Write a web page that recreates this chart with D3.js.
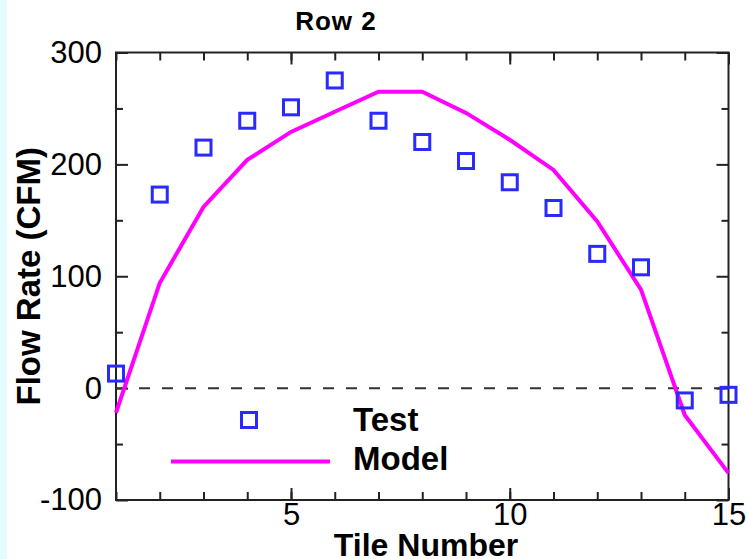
<!DOCTYPE html>
<html>
<head>
<meta charset="utf-8">
<script src="https://cdn.jsdelivr.net/npm/d3@7"></script>
<style>
body { margin: 0; background: #fff; }
svg { display: block; }
.axis text { font-family: "Liberation Sans", Arial, sans-serif; fill: #000; }
.axis line { stroke: #222; stroke-width: 2; }
.axis path { display: none; }
</style>
</head>
<body>
<script>
const WIDTH = 747, HEIGHT = 559;
const LEFT = 116, RIGHT = 728.5, TOP = 52.5, BOTTOM = 500;

var tiles = [1,2,3,4,5,6,7,8,9,10,11,12,13,14,15];
var testFlow = [13,173,215,239,251,275,239,220,203,184,161,120,108,-11,-6];
var modelFlow = [-22,94,162,204,229,247,265,265,246,222,195,149,88,-24,-76];
var xMajorTicks = [5,10,15];
var yMajorTicks = [-100,0,100,200,300];
var yMinorTicks = [-50,50,150,250];
var legendLabels = ['Test','Model'];

var svg = d3.select('body').append('svg')
	.attr('width',WIDTH)
	.attr('height',HEIGHT);

svg.append('rect').attr('x',0).attr('y',0).attr('width',7).attr('height',HEIGHT).attr('fill','#e4fbff');

var x = d3.scaleLinear().domain([1,15]).range([LEFT,RIGHT]);
var y = d3.scaleLinear().domain([-100,300]).range([BOTTOM,TOP]);
var plain = function(d){ return String(d); };  // keep the ascii hyphen for negatives

// ticks, all pointing into the plot
var addAxis = function(axis,tx,ty){
	return svg.append('g').attr('class','axis')
		.attr('transform','translate('+tx+','+ty+')')
		.call(axis);
}
addAxis(d3.axisBottom(x).tickValues(tiles).tickSize(-8).tickFormat(''),0,BOTTOM);
addAxis(d3.axisTop(x).tickValues(tiles).tickSize(-8).tickFormat(''),0,TOP);
addAxis(d3.axisTop(x).tickValues(xMajorTicks).tickSize(-12).tickFormat(''),0,TOP);
var xAx = addAxis(d3.axisBottom(x).tickValues(xMajorTicks).tickSize(-12).tickPadding(3).tickFormat(plain),0,BOTTOM);
xAx.selectAll('text').style('font-size','31px');

addAxis(d3.axisLeft(y).tickValues(yMinorTicks).tickSize(-7).tickFormat(''),LEFT,0);
addAxis(d3.axisRight(y).tickValues(yMinorTicks).tickSize(-7).tickFormat(''),RIGHT,0);
addAxis(d3.axisRight(y).tickValues(yMajorTicks).tickSize(-12).tickFormat(''),RIGHT,0);
var yAx = addAxis(d3.axisLeft(y).tickValues(yMajorTicks).tickSize(-12).tickPadding(14).tickFormat(plain),LEFT,0);
yAx.selectAll('text').style('font-size','31px');

// frame
svg.append('rect')
	.attr('x',LEFT).attr('y',TOP)
	.attr('width',RIGHT-LEFT).attr('height',BOTTOM-TOP)
	.attr('fill','none').attr('stroke','#222').attr('stroke-width',2);

// zero line
svg.append('line')
	.attr('x1',LEFT).attr('x2',RIGHT)
	.attr('y1',y(0)).attr('y2',y(0))
	.attr('stroke','#333').attr('stroke-width',2)
	.attr('stroke-dasharray','11,12');

var modelLine = d3.line()
	.x(function(d,i){ return x(tiles[i]); })
	.y(function(d){ return y(d); });
svg.append('path')
	.attr('d',modelLine(modelFlow))
	.attr('fill','none').attr('stroke','#ff00ff').attr('stroke-width',4);

var SQ = 15;
svg.append('g').selectAll('rect')
	.data(testFlow)
	.enter()
	.append('rect')
	.attr('x',function(d,i){ return x(tiles[i]) - SQ/2; })
	.attr('y',function(d){ return y(d) - SQ/2; })
	.attr('width',SQ).attr('height',SQ)
	.attr('fill','none').attr('stroke','#2a2aff').attr('stroke-width',3);

// legend
var font = '"Liberation Sans", Arial, sans-serif';
svg.append('rect')
	.attr('x',249-SQ/2).attr('y',420-SQ/2).attr('width',SQ).attr('height',SQ)
	.attr('fill','none').attr('stroke','#2a2aff').attr('stroke-width',3);
svg.append('line')
	.attr('x1',171).attr('x2',330).attr('y1',461.5).attr('y2',461.5)
	.attr('stroke','#ff00ff').attr('stroke-width',4);
svg.selectAll('.legtext').data(legendLabels).enter().append('text')
	.attr('x',353).attr('y',function(d,i){ return 431 + i*39; })
	.style('font-family',font).style('font-weight','bold').style('font-size','33px')
	.text(function(d){ return d; });

// titles
svg.append('text').attr('x',336).attr('y',30).attr('text-anchor','middle')
	.style('font-family',font).style('font-weight','bold').style('font-size','26px')
	.style('letter-spacing','1px')
	.text('Row 2');
svg.append('text').attr('x',426).attr('y',556).attr('text-anchor','middle')
	.style('font-family',font).style('font-weight','bold').style('font-size','32px')
	.text('Tile Number');
svg.append('text').attr('transform','translate(40,'+((TOP+BOTTOM)/2)+') rotate(-90)')
	.attr('text-anchor','middle')
	.style('font-family',font).style('font-weight','bold').style('font-size','33px')
	.text('Flow Rate (CFM)');
</script>
</body>
</html>
